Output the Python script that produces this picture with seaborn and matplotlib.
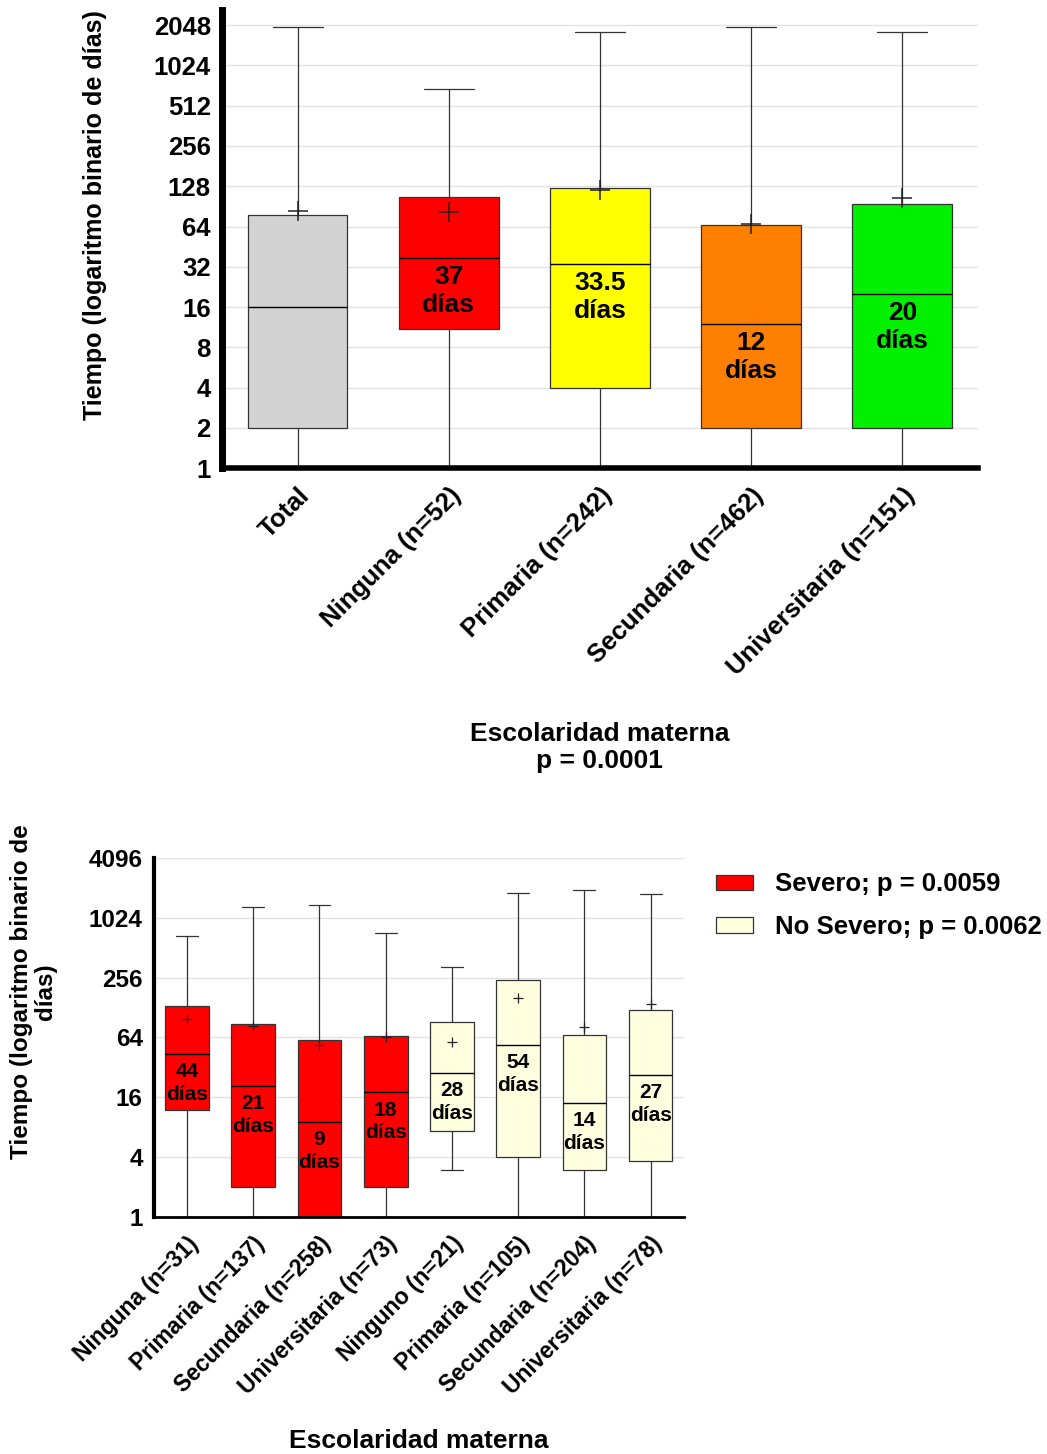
import pandas as pd
import matplotlib.pyplot as plt
import matplotlib.patches as mpatches
from matplotlib.ticker import NullLocator
import seaborn as sns

# top panel: five-number summaries (days)
top_labels = ["Total", "Ninguna (n=52)", "Primaria (n=242)", "Secundaria (n=462)", "Universitaria (n=151)"]
top_min = [1, 1, 1, 1, 1]
top_q1 = [2, 10.9, 4, 2, 2]
top_median = [16, 37, 33.5, 12, 20]
top_q3 = [78, 106, 124, 66, 95]
top_max = [2000, 684, 1808, 2000, 1808]
top_mean = [84, 82, 120, 67, 105]
top_text = ["", "37", "33.5", "12", "20"]
top_colors = ["#d3d3d3", "#ff0000", "#ffff00", "#ff8000", "#00f000"]

# bottom panel: severe vs non severe
bot_keys = ["S1", "S2", "S3", "S4", "N1", "N2", "N3", "N4"]
bot_labels = ["Ninguna (n=31)", "Primaria (n=137)", "Secundaria (n=258)", "Universitaria (n=73)",
              "Ninguno (n=21)", "Primaria (n=105)", "Secundaria (n=204)", "Universitaria (n=78)"]
bot_min = [1, 1, 1, 1, 3, 1, 1, 1]
bot_q1 = [11.9, 2, 1, 2, 7.4, 4, 3, 3.7]
bot_median = [44, 21, 9, 18, 28, 54, 14, 27]
bot_q3 = [134, 88, 60, 66, 91, 240, 68, 120]
bot_max = [670, 1316, 1360, 718, 328, 1800, 1960, 1770]
bot_mean = [97, 84, 54, 64.5, 58, 161, 81.5, 140]
bot_colors = ["#ff0000"] * 4 + ["#ffffe0"] * 4


def long_table(keys, mins, q1s, meds, q3s, maxs):
    rows = []
    for k, a, b, c, d, e in zip(keys, mins, q1s, meds, q3s, maxs):
        for v in (a, b, c, d, e):
            rows.append({"grupo": k, "dias": v})
    return pd.DataFrame(rows)


df_top = long_table(top_labels, top_min, top_q1, top_median, top_q3, top_max)
df_bot = long_table(bot_keys, bot_min, bot_q1, bot_median, bot_q3, bot_max)

sns.set_style("white")
plt.rcParams["font.family"] = ["Liberation Sans", "DejaVu Sans"]
plt.rcParams["font.weight"] = "bold"
for key in ("text.color", "axes.labelcolor", "xtick.color", "ytick.color", "axes.edgecolor"):
    plt.rcParams[key] = "black"

fig = plt.figure(figsize=(10.47, 14.54), dpi=100)
ax1 = fig.add_axes([0.212, 0.678, 0.722, 0.315])
ax2 = fig.add_axes([0.147, 0.163, 0.506, 0.247])

box_kws = dict(
    whis=(0, 100), width=0.66, linecolor="#333333", linewidth=0.9,
    fliersize=0, legend=False, log_scale=2, saturation=1,
    medianprops={"color": "black", "linewidth": 1.0},
)

sns.boxplot(data=df_top, x="grupo", y="dias", hue="grupo", order=top_labels,
            hue_order=top_labels, palette=top_colors, ax=ax1, **box_kws)
sns.boxplot(data=df_bot, x="grupo", y="dias", hue="grupo", order=bot_keys,
            hue_order=bot_keys, palette=bot_colors, ax=ax2, **box_kws)

# means as "+"
ax1.plot(top_labels, top_mean, linestyle="none", marker="+", markersize=14,
         markeredgewidth=1.1, color="#222222", zorder=5)
ax2.plot(bot_keys, bot_mean, linestyle="none", marker="+", markersize=7,
         markeredgewidth=0.9, color="#222222", zorder=5)

# median labels inside boxes
for i, t in enumerate(top_text):
    if t:
        ax1.annotate(t + "\ndías", (i, top_median[i]), xytext=(0, -5),
                     textcoords="offset points", ha="center", va="top",
                     fontsize=19, fontweight="bold", linespacing=1.2, zorder=6)
for i, m in enumerate(bot_median):
    ax2.annotate(f"{m}\ndías", (i, m), xytext=(0, -6),
                 textcoords="offset points", ha="center", va="top",
                 fontsize=15, fontweight="bold", linespacing=1.25, zorder=6)

# axes styling
top_ticks = [2 ** i for i in range(12)]
ax1.set_ylim(1, 2650)
ax1.set_xlim(-0.5, 4.5)
ax1.set_yticks(top_ticks, labels=[str(v) for v in top_ticks])
ax1.yaxis.set_minor_locator(NullLocator())
ax1.set_xticks(range(len(top_labels)), labels=top_labels)

bot_ticks = [4 ** i for i in range(7)]
ax2.set_ylim(1, 4096)
ax2.set_xlim(-0.5, 7.5)
ax2.set_yticks(bot_ticks, labels=[str(v) for v in bot_ticks])
ax2.yaxis.set_minor_locator(NullLocator())
ax2.set_xticks(range(len(bot_keys)), labels=bot_labels)

for ax, lw, yfs, xfs in ((ax1, 5, 18.5, 18.5), (ax2, 3, 17.5, 16.5)):
    sns.despine(ax=ax)
    ax.spines["left"].set_linewidth(lw)
    ax.spines["bottom"].set_linewidth(lw - 1)
    ax.grid(axis="y", color="#e3e3e3", linewidth=1)
    ax.set_axisbelow(True)
    ax.tick_params(axis="y", length=6, width=2.5, pad=2, labelsize=yfs)
    ax.tick_params(axis="x", length=7, width=2.5, pad=4, labelsize=xfs)
    for lab in ax.get_xticklabels():
        lab.set_rotation(45)
        lab.set_ha("right")
        lab.set_rotation_mode("anchor")
        lab.set_fontweight("bold")
    for lab in ax.get_yticklabels():
        lab.set_fontweight("bold")

ax1.set_ylabel("Tiempo (logaritmo binario de días)", fontsize=18, fontweight="bold")
ax1.yaxis.set_label_coords(-0.152, 0.552)
ax1.set_xlabel("Escolaridad materna\np = 0.0001", fontsize=19, fontweight="bold",
               linespacing=1.15)
ax1.xaxis.set_label_coords(0.5, -0.555)

ax2.set_ylabel("Tiempo (logaritmo binario de\ndías)", fontsize=17.5, fontweight="bold",
               linespacing=1.05)
ax2.yaxis.set_label_coords(-0.183, 0.627)
ax2.set_xlabel("Escolaridad materna", fontsize=19, fontweight="bold")
ax2.xaxis.set_label_coords(0.5, -0.59)

handles = [
    mpatches.Patch(facecolor="#ff0000", edgecolor="#333333", linewidth=0.9, label="Severo; p = 0.0059"),
    mpatches.Patch(facecolor="#ffffe0", edgecolor="#333333", linewidth=0.9, label="No Severo; p = 0.0062"),
]
fig.legend(handles=handles, loc="upper left", bbox_to_anchor=(0.684, 0.400),
           frameon=False, prop={"size": 18.5, "weight": "bold"}, handlelength=1.44,
           handleheight=0.55, handletextpad=0.86, labelspacing=0.72,
           borderpad=0, borderaxespad=0)

fig.savefig("out.png", dpi=100)
